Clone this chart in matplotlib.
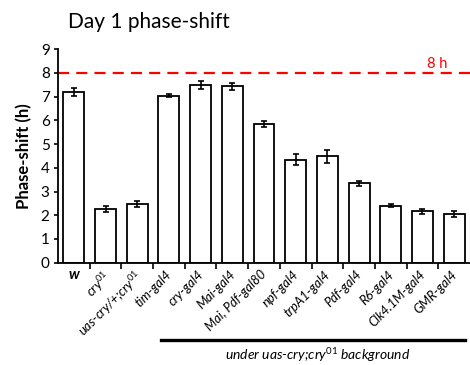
import matplotlib
matplotlib.use("Agg")
import matplotlib.pyplot as plt
import matplotlib.transforms as mtransforms
import numpy as np

plt.rcParams['font.family'] = ['Lato', 'DejaVu Sans']
plt.rcParams['mathtext.fontset'] = 'custom'
plt.rcParams['mathtext.rm'] = 'Lato'
plt.rcParams['mathtext.it'] = 'Lato:italic'

# genotypes (x tick labels)
genotypes = ['w', 'cry$^{01}$', 'uas-cry/+;cry$^{01}$', 'tim-gal4', 'cry-gal4',
             'Mai-gal4', 'Mai, Pdf-gal80', 'npf-gal4', 'trpA1-gal4', 'Pdf-gal4',
             'R6-gal4', 'Clk4.1M-gal4', 'GMR-gal4']
# day 1 phase-shift (h) and SEM
shift = [7.18, 2.28, 2.48, 7.05, 7.5, 7.44, 5.85, 4.35, 4.48, 3.34, 2.4, 2.16, 2.06]
sem = [0.17, 0.13, 0.13, 0.05, 0.17, 0.14, 0.12, 0.24, 0.27, 0.09, 0.07, 0.09, 0.13]
yticks = list(range(0, 10))
ref_shift = 8

fig = plt.figure(figsize=(4.7, 3.65), dpi=100)
ax = fig.add_axes([0.1234, 0.2803, 0.8766, 0.5847])

x = np.arange(len(genotypes))
ax.bar(x, shift, width=0.66, color='white', edgecolor='black', linewidth=1.3,
       yerr=sem, error_kw=dict(ecolor='black', elinewidth=1.2, capsize=2.5, capthick=1.2))

ax.axhline(ref_shift, color='red', linestyle=(0, (5, 3.2)), linewidth=1.6)
ax.text(0.92, ref_shift + 0.08, '8 h', color='red', fontsize=10.5, ha='center', va='bottom',
        transform=ax.get_yaxis_transform())

ax.set_xlim(-0.5, len(genotypes) - 0.5)
ax.set_ylim(0, 9)
ax.set_yticks(yticks)
ax.tick_params(axis='y', labelsize=11, length=3, width=1.2, pad=3)
ax.set_ylabel('Phase-shift (h)', fontsize=12, fontweight='bold', labelpad=6)

ax.set_xticks(x)
ax.set_xticklabels(genotypes, rotation=45, ha='right', va='top',
                   rotation_mode='anchor', fontsize=9.3, fontstyle='italic')
ax.tick_params(axis='x', which='major', length=0, pad=4)
ax.set_xticks(x[:-1] + 0.5, minor=True)
ax.tick_params(axis='x', which='minor', length=4, width=1.2)
shift_left = mtransforms.ScaledTranslation(-0.035, 0, fig.dpi_scale_trans)
for lbl in ax.get_xticklabels()[1:]:
    lbl.set_transform(lbl.get_transform() + shift_left)
lbl0 = ax.get_xticklabels()[0]
lbl0.set_rotation(0)
lbl0.set_fontweight('bold')
lbl0.set_fontsize(10.5)
lbl0.set_ha('center')

for side in ['top', 'right']:
    ax.spines[side].set_visible(False)
for side in ['left', 'bottom']:
    ax.spines[side].set_linewidth(1.3)

fig.text(68 / 470, 1 - 22 / 365, 'Day 1 phase-shift', fontsize=15, ha='left', va='center')

# background bracket
fig.add_artist(plt.Line2D([161 / 470, 465 / 470], [1 - 339.5 / 365] * 2,
                          color='black', linewidth=2.4, transform=fig.transFigure))
fig.text(318 / 470, 1 - 355 / 365, 'under uas-cry;cry$^{01}$ background', fontsize=10,
         fontstyle='italic', ha='center', va='center')

fig.savefig('out.png', dpi=100)
